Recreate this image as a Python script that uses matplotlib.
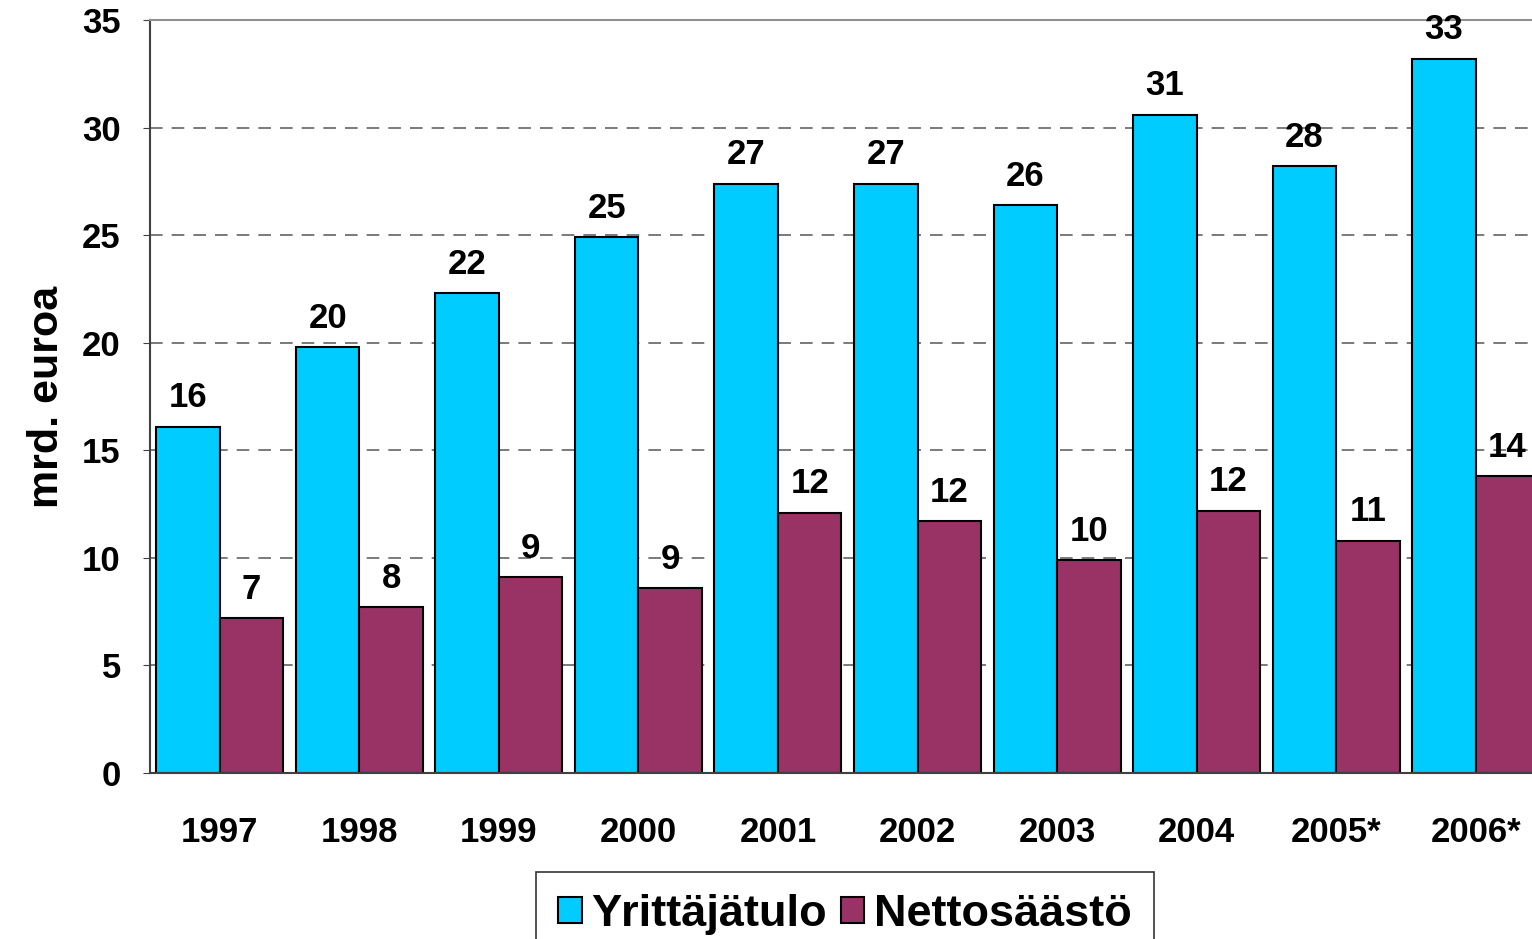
import numpy as np
import matplotlib
matplotlib.use("Agg")
import matplotlib.pyplot as plt
from matplotlib.patches import Patch

years = ["1997", "1998", "1999", "2000", "2001", "2002", "2003", "2004", "2005*", "2006*"]
yrittajatulo = [16.1, 19.8, 22.3, 24.9, 27.4, 27.4, 26.4, 30.6, 28.2, 33.2]
nettosaasto = [7.2, 7.7, 9.1, 8.6, 12.1, 11.7, 9.9, 12.2, 10.8, 13.8]
series_names = ["Yrittäjätulo", "Nettosäästö"]
colors = ["#00CCFF", "#993366"]

plt.rcParams["font.family"] = ["Liberation Sans", "DejaVu Sans"]
plt.rcParams["font.weight"] = "bold"

fig = plt.figure(figsize=(15.32, 9.39), dpi=100)
ax = fig.add_axes([150 / 1532, 1 - 773 / 939, 1395.5 / 1532, (773 - 20) / 939])

x = np.arange(len(years))
w = 0.455
b1 = ax.bar(x - w / 2, yrittajatulo, w, color=colors[0], edgecolor="black", linewidth=1.5)
b2 = ax.bar(x + w / 2, nettosaasto, w, color=colors[1], edgecolor="black", linewidth=1.5)

for bars, vals in [(b1, yrittajatulo), (b2, nettosaasto)]:
    for bar, v in zip(bars, vals):
        ax.annotate(f"{v:.0f}", (bar.get_x() + bar.get_width() / 2, v),
                    xytext=(0, 14), textcoords="offset points",
                    ha="center", va="baseline", fontsize=25, fontweight="bold")

ax.set_xlim(-0.5, len(years) - 0.5)
ax.set_ylim(0, 35)
ax.set_yticks(range(0, 36, 5))
ax.set_xticks(x)
ax.set_xticklabels(years)
ax.tick_params(axis="x", length=0, pad=31, labelsize=25)
ax.tick_params(axis="y", direction="out", length=5, pad=16, labelsize=25, color="#404040")
ax.set_ylabel("mrd. euroa", fontsize=31, fontweight="bold", labelpad=11)

ax.yaxis.grid(True, linestyle=(0, (7, 5)), color="#707070", linewidth=1.3)
ax.set_axisbelow(True)
for side in ["left", "bottom"]:
    ax.spines[side].set_color("#404040")
    ax.spines[side].set_linewidth(1.5)
ax.spines["top"].set_color("#909090")
ax.spines["top"].set_linewidth(1.5)
ax.spines["right"].set_visible(False)

handles = [Patch(facecolor=c, edgecolor="black", linewidth=1.5) for c in colors]
leg = fig.legend(handles, series_names, loc="lower center", bbox_to_anchor=(845 / 1532, -0.02),
                 ncol=2, prop={"weight": "bold", "size": 32.5},
                 frameon=True, fancybox=False, edgecolor="black",
                 handlelength=0.52, handleheight=0.52, handletextpad=0.22,
                 columnspacing=0.3, borderpad=0.5, borderaxespad=0)
leg.get_frame().set_linewidth(1.2)

fig.savefig("out.png", dpi=100)
